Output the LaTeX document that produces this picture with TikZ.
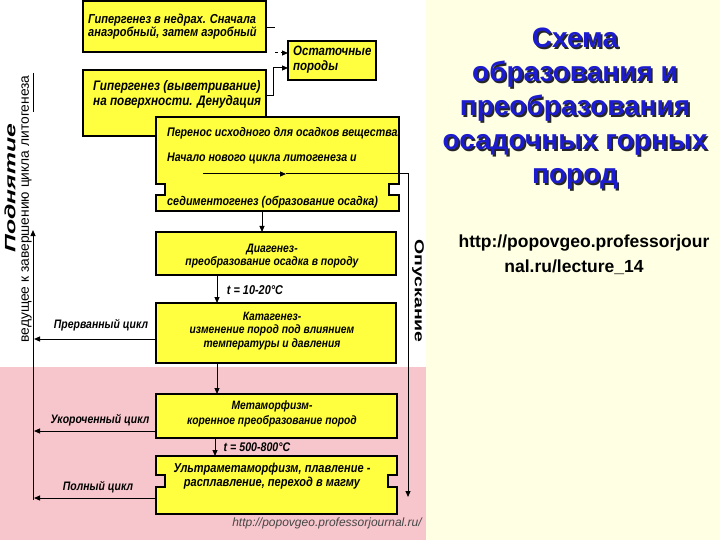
\documentclass[tikz,border=0pt]{standalone}
\usepackage{fontspec}
\usepackage{graphicx}
\setmainfont{Liberation Sans}
\newfontfamily\boxfont[FakeStretch=0.85]{Liberation Sans}
\usetikzlibrary{arrows.meta,calc}
\definecolor{boxyellow}{RGB}{255,255,64}
\definecolor{pinkbg}{RGB}{246,198,204}
\definecolor{creambg}{RGB}{255,255,228}
\definecolor{titleblue}{RGB}{28,28,206}
\definecolor{wmgray}{RGB}{70,70,70}
\newcommand{\titshadow}[1]{\rlap{\kern1.8pt\raisebox{-1.8pt}{\textcolor{black!85}{#1}}}\textcolor{titleblue}{#1}}
\begin{document}
\begin{tikzpicture}[x=1pt,y=-1pt,
  ybox/.style={draw=black, line width=1.8pt, fill=boxyellow, inner sep=0pt, outer sep=0pt},
  ghost/.style={inner sep=0pt, outer sep=0pt},
  btxt/.style={font=\boxfont\bfseries\itshape\fontsize{#1}{13.5}\selectfont, inner sep=0pt},
  btxt/.default=12,
  arr/.style={-{Triangle[length=6pt,width=5pt]}, line width=1pt},
  conn/.style={line width=1pt}
]
\useasboundingbox (0,0) rectangle (720,540);
% backgrounds
\fill[white] (0,0) rectangle (426,540);
\fill[pinkbg] (0,367) rectangle (426,540);
\fill[creambg] (426,0) rectangle (720,540);

% boxes
\node[ybox, minimum width=183pt, minimum height=51pt] (A) at (174.5,26.5) {};
\node[ybox, minimum width=88pt, minimum height=39pt] (R) at (332,60.5) {};
\node[ybox, minimum width=183pt, minimum height=66pt] (B) at (174.5,103) {};
% notched box C
\filldraw[fill=boxyellow, draw=black, line width=1.8pt]
  (156,117) -- (399,117) -- (399,184) -- (389,184) -- (389,195) -- (399,195) -- (399,211)
  -- (156,211) -- (156,195) -- (165,195) -- (165,184) -- (156,184) -- cycle;
\node[ghost, minimum width=243pt, minimum height=94pt] (C) at (277.5,164) {};
\node[ybox, minimum width=240pt, minimum height=43pt] (D) at (276,253.5) {};
\node[ybox, minimum width=240pt, minimum height=60pt] (E) at (276,333) {};
\node[ybox, minimum width=241pt, minimum height=44pt] (F) at (276.5,416) {};
% notched box G
\filldraw[fill=boxyellow, draw=black, line width=1.8pt]
  (156,456) -- (397,456) -- (397,475) -- (388,475) -- (388,487) -- (397,487) -- (397,514)
  -- (156,514) -- (156,487) -- (165,487) -- (165,475) -- (156,475) -- cycle;
\node[ghost, minimum width=241pt, minimum height=58pt] (G) at (276.5,485) {};

% box texts
\node[btxt=13, align=left, anchor=west] (At) at (88,26.5) {Гипергенез в недрах. Сначала\\анаэробный, затем аэробный};
\node[btxt=13.5, align=left, anchor=west] (Rt) at (293,59.5) {Остаточные\\[1.5pt]породы};
\node[btxt=13.8, align=left, anchor=west] (Bt) at (93,94.5) {Гипергенез (выветривание)\\[1.5pt]на поверхности. Денудация};
\node[btxt=12.5, anchor=west] (Ct1) at (167,133) {Перенос исходного для осадков вещества.};
\node[btxt=12.5, anchor=west] (Ct2) at (167,158) {Начало нового цикла литогенеза и};
\node[btxt=12.7, anchor=west] (Ct3) at (167,202) {седиментогенез (образование осадка)};
\node[btxt=12.2, align=center] (Dt) at (272,256) {Диагенез-\\преобразование осадка в породу};
\node[btxt=12.1, align=center] (Et) at (272,331) {Катагенез-\\изменение пород под влиянием\\температуры и давления};
\node[btxt=12.1, align=center] (Ft) at (272,414) {Метаморфизм-\\[1pt]коренное преобразование пород};
\node[btxt=13, align=center] (Gt) at (272,476) {Ультраметаморфизм, плавление -\\расплавление, переход в магму};

% labels
\node[btxt=12.8] (t1) at (255,290) {t = 10-20°C};
\node[btxt=12.5] (t2) at (257,447) {t = 500-800°C};
\node[btxt=12.3] (c1) at (101,325) {Прерванный цикл};
\node[btxt=12.3] (c2) at (100,420) {Укороченный цикл};
\node[btxt=12.3] (c3) at (98,487) {Полный цикл};

% top connectors
\coordinate (ka) at (275,28);
\coordinate (kd) at (275,53);
\coordinate (kb) at (273,96);
\coordinate (kc) at (273,68);
\draw[conn] ([yshift=-1.5pt]A.east) -- (ka);
\draw[arr, dashed] (kd) -- (R.west |- kd);
\draw[arr] (B.east |- kb) -- (kb) -- (kc) -- (R.west |- kc);

% main chain
\draw[arr] ([xshift=-15.5pt]C.south) -- ([xshift=-14pt]D.north);
\draw[arr] ([xshift=-59pt]D.south) -- ([xshift=-59pt]E.north);
\draw[arr] ([xshift=-59pt]E.south) -- ([xshift=-59.5pt]F.north);
\draw[arr] ([xshift=-61.5pt]F.south) -- ([xshift=-61.5pt]G.north);

% right descending line
\coordinate (cin) at (203,174);
\coordinate (cmid) at (286,174);
\coordinate (rtop) at (408,174);
\coordinate (rbot) at (408,497);
\draw[arr] (cin) -- (cmid);
\draw[arr] (cmid) -- (rtop) -- (rbot);

% left return line
\coordinate (L1) at (34,339);
\coordinate (L2) at (34,431);
\coordinate (L3) at (34,498);
\coordinate (Lbot) at (33,500);
\coordinate (Ltop) at (33,230);
\draw[arr] ([yshift=-6pt]E.west) -- (L1);
\draw[arr] ([yshift=-15pt]F.west) -- (L2);
\draw[arr] ([yshift=-13pt]G.west) -- (L3);
\draw[arr] (Lbot) -- (Ltop);
\coordinate (u1) at (33,73);
\coordinate (u2) at (33,112);
\draw[line width=0.8pt] (u1) -- (u2);

% rotated texts
\node[rotate=90, inner sep=0pt, font=\bfseries\itshape\fontsize{15}{15}\selectfont] (pod) at (10,188) {\scalebox{1.65}[1]{Поднятие}};
\node[rotate=90, inner sep=0pt, font=\fontsize{13.8}{13.8}\selectfont] (ved) at (26.5,209) {ведущее к завершению цикла литогенеза};
\node[rotate=-90, inner sep=0pt, font=\bfseries\fontsize{13}{13}\selectfont] (opu) at (418,291) {\scalebox{1.5}[1]{Опускание}};

% title
\node[align=center, font=\bfseries\fontsize{28}{34}\selectfont] (title) at (575,110) {\titshadow{Схема}\\\titshadow{образования и}\\\titshadow{преобразования}\\\titshadow{осадочных горных}\\\titshadow{пород}};
\node[font=\bfseries\fontsize{17.5}{17.5}\selectfont, inner sep=0pt] (url1) at (584,243) {http://popovgeo.professorjour};
\node[font=\bfseries\fontsize{17.5}{17.5}\selectfont, inner sep=0pt] (url2) at (574,267) {nal.ru/lecture\_14};

% watermark
\node[font=\itshape\fontsize{12}{12}\selectfont, text=wmgray, inner sep=0pt] (wm) at (327,523) {http://popovgeo.professorjournal.ru/};
\end{tikzpicture}
\end{document}
